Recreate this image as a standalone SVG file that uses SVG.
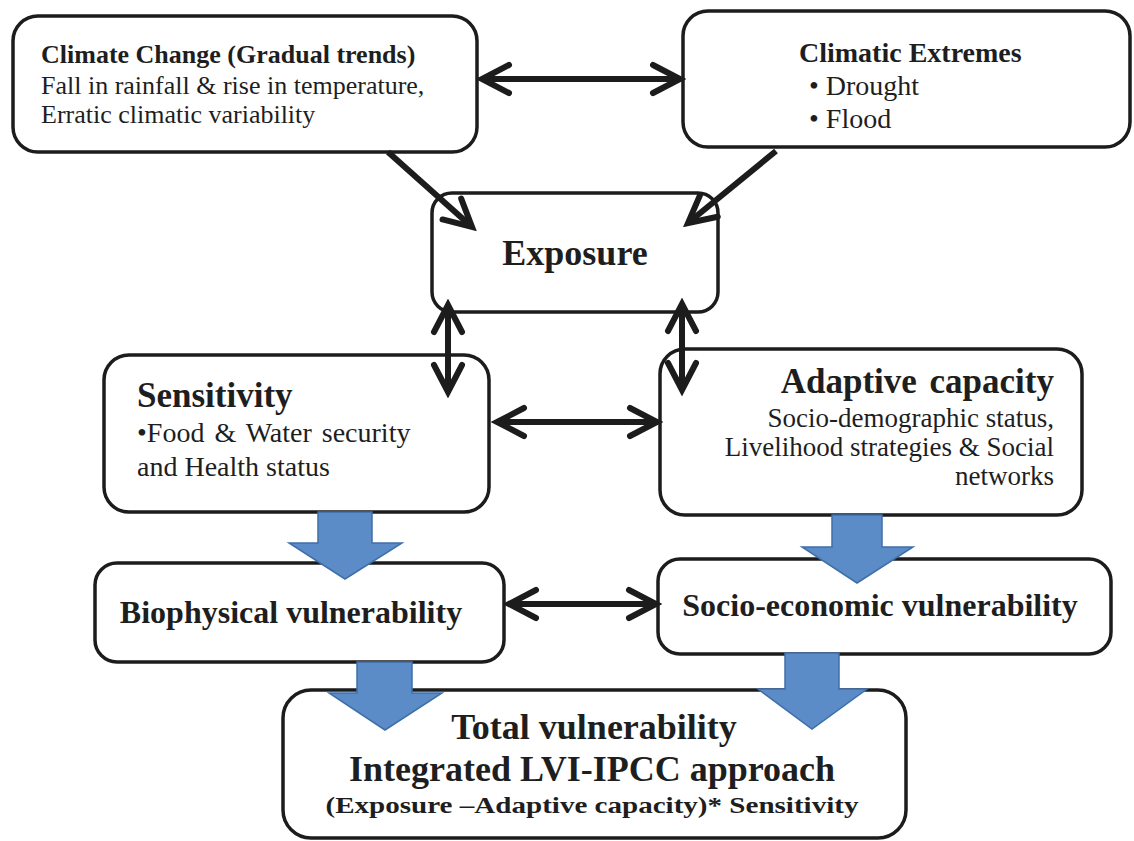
<svg xmlns="http://www.w3.org/2000/svg" width="1134" height="841" viewBox="0 0 1134 841">
  <defs>
    <style>
      .box { fill: #ffffff; stroke: #1c1c1c; stroke-width: 3.5; }
      .t { font-family: "Liberation Serif", "Times New Roman", serif; fill: #1e1e1e; }
      .b { font-weight: bold; }
      .conn { stroke: #1c1c1c; stroke-width: 6; fill: none; }
      .blk { fill: #5b8cc8; stroke: #3f6fa8; stroke-width: 1.5; stroke-linejoin: miter; }
    </style>
    <marker id="head" markerUnits="userSpaceOnUse" viewBox="-34 -20 40 40" markerWidth="40" markerHeight="40" refX="0" refY="0" orient="auto-start-reverse">
      <path d="M-27,-14 L0,0 L-27,14" fill="none" stroke="#1c1c1c" stroke-width="6" stroke-linecap="round" stroke-linejoin="miter"/>
    </marker>
  </defs>
  <rect width="1134" height="841" fill="#ffffff"/>

  <g id="climate-change">
    <rect class="box" x="13" y="16" width="464" height="136" rx="25"/>
    <text class="t b" x="41" y="63" font-size="26">Climate Change (Gradual trends)</text>
    <text class="t" x="41" y="94" font-size="26">Fall in rainfall &amp; rise in temperature,</text>
    <text class="t" x="41" y="123" font-size="26">Erratic climatic variability</text>
  </g>

  <g id="climatic-extremes">
    <rect class="box" x="683" y="11" width="447" height="136" rx="25"/>
    <text class="t b" x="799" y="62" font-size="28">Climatic Extremes</text>
    <text class="t" x="809" y="95" font-size="28">• Drought</text>
    <text class="t" x="809" y="128" font-size="28">• Flood</text>
  </g>

  <g id="exposure">
    <rect class="box" x="432" y="193" width="286" height="119" rx="20"/>
    <text class="t b" x="575" y="265" font-size="36" text-anchor="middle">Exposure</text>
  </g>

  <g id="sensitivity">
    <rect class="box" x="104" y="355" width="385" height="157" rx="25"/>
    <text class="t b" x="137" y="407" font-size="35">Sensitivity</text>
    <text class="t" x="137" y="442" font-size="28" word-spacing="3">•Food &amp; Water security</text>
    <text class="t" x="137" y="476" font-size="28">and Health status</text>
  </g>

  <g id="adaptive-capacity">
    <rect class="box" x="660" y="349" width="422" height="166" rx="25"/>
    <text class="t b" x="1054" y="393" font-size="35" text-anchor="end" word-spacing="4">Adaptive capacity</text>
    <text class="t" x="1054" y="427" font-size="27" text-anchor="end">Socio-demographic status,</text>
    <text class="t" x="1054" y="456" font-size="27" text-anchor="end">Livelihood strategies &amp; Social</text>
    <text class="t" x="1054" y="485" font-size="27" text-anchor="end">networks</text>
  </g>

  <g id="biophysical">
    <rect class="box" x="95" y="563" width="409" height="99" rx="22"/>
    <text class="t b" x="291" y="623" font-size="32" text-anchor="middle">Biophysical vulnerability</text>
  </g>

  <g id="socio-economic">
    <rect class="box" x="658" y="559" width="453" height="95" rx="22"/>
    <text class="t b" x="880" y="616" font-size="32" text-anchor="middle">Socio-economic vulnerability</text>
  </g>

  <g id="total">
    <rect class="box" x="283" y="690" width="623" height="148" rx="28"/>
    <text class="t b" x="594" y="739" font-size="36" text-anchor="middle">Total vulnerability</text>
    <text class="t b" x="592" y="781" font-size="36" text-anchor="middle">Integrated LVI-IPCC approach</text>
    <text class="t b" x="592" y="813" font-size="24" text-anchor="middle" textLength="533" lengthAdjust="spacingAndGlyphs">(Exposure –Adaptive capacity)* Sensitivity</text>
  </g>

  <g id="connectors">
    <path class="conn" d="M482,79 L680,79" marker-start="url(#head)" marker-end="url(#head)"/>
    <path class="conn" d="M388,152 L472,227" marker-end="url(#head)"/>
    <path class="conn" d="M776,151 L688,223" marker-end="url(#head)"/>
    <path class="conn" d="M448,305 L448,392" marker-start="url(#head)" marker-end="url(#head)"/>
    <path class="conn" d="M682,304 L682,390" marker-start="url(#head)" marker-end="url(#head)"/>
    <path class="conn" d="M497,422 L657,422" marker-start="url(#head)" marker-end="url(#head)"/>
    <path class="conn" d="M509,604 L656,604" marker-start="url(#head)" marker-end="url(#head)"/>
    <path class="blk" d="M318,512 H372 V543 H402 L345,579 L289,543 H318 Z"/>
    <path class="blk" d="M832,515 H882 V547 H913 L857,583 L802,547 H832 Z"/>
    <path class="blk" d="M357,662 H412 V693 H442 L385,730 L329,693 H357 Z"/>
    <path class="blk" d="M785,653 H839 V689 H867 L812,729 L758,689 H785 Z"/>
  </g>
</svg>
